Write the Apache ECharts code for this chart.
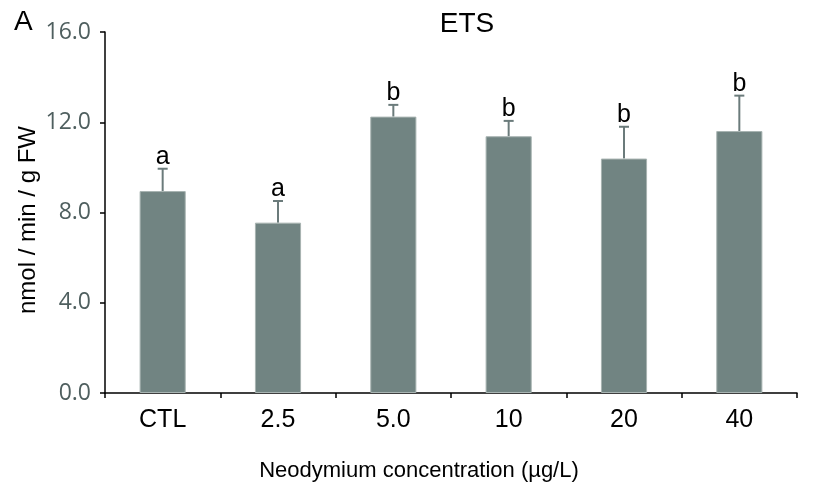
<!DOCTYPE html>
<html><head><meta charset="utf-8">
<script src="https://cdn.jsdelivr.net/npm/echarts@6/dist/echarts.min.js"></script>
<style>html,body{margin:0;padding:0;background:#fff}#c{width:823px;height:490px}</style>
</head><body><div id="c"></div>
<script>
var categories = ['CTL', '2.5', '5.0', '10', '20', '40'];
var means = [8.95, 7.55, 12.25, 11.38, 10.39, 11.61];
var errors = [0.99, 0.96, 0.52, 0.68, 1.41, 1.57];
var letters = ['a', 'a', 'b', 'b', 'b', 'b'];
var xName = 'Neodymium concentration (µg/L)';
var yName = 'nmol / min / g FW';

var chart = echarts.init(document.getElementById('c'));
var errData = categories.map(function (c, i) { return [i, means[i], errors[i]]; });
chart.setOption({
  animation: false,
  title: { text: 'ETS', left: 462, top: 5, textAlign: 'center',
    textStyle: { fontFamily: 'Liberation Sans', fontSize: 28, fontWeight: 'normal', color: '#000' } },
  graphic: [
    { type: 'text', left: 14, top: 8, style: { text: 'A', font: '28px "Liberation Sans"', fill: '#000' } },
    { type: 'text', x: 419, y: 471, style: { text: xName, font: '22px "Liberation Sans"', fill: '#000',
      textAlign: 'center', textVerticalAlign: 'middle' } },
    { type: 'text', x: 28, y: 220, rotation: Math.PI / 2, style: { text: yName, font: '24px "Liberation Sans"', fill: '#000',
      textAlign: 'center', textVerticalAlign: 'middle' } }
  ],
  grid: { left: 105, right: 26, top: 32, bottom: 97 },
  xAxis: {
    type: 'category', data: categories,
    axisLine: { lineStyle: { color: '#000', width: 1.5 } },
    axisTick: { show: true, length: 5, lineStyle: { color: '#000', width: 1.5 } },
    axisLabel: { fontFamily: 'Liberation Sans', fontSize: 25, color: '#000', margin: 15 }
  },
  yAxis: {
    type: 'value', min: 0, max: 16, interval: 4,
    axisLine: { show: true, lineStyle: { color: '#000', width: 1.5 } },
    axisTick: { show: true, length: 5, lineStyle: { color: '#000', width: 1.5 } },
    splitLine: { show: false },
    axisLabel: { fontFamily: '"Open Sans", sans-serif', fontSize: 23, color: '#4f5f5f', margin: 14,
      formatter: function (v) { return v.toFixed(1); } }
  },
  series: [{
    type: 'bar', data: means, barWidth: '40%',
    itemStyle: { color: '#718482', borderColor: '#a8b4b2', borderWidth: 1 }
  }, {
    type: 'custom', data: errData,
    renderItem: function (params, api) {
      var x = api.value(0), m = api.value(1), e = api.value(2);
      var p0 = api.coord([x, m]);
      var p1 = api.coord([x, m + e]);
      var hw = 5;
      var st = { stroke: '#6b7b7b', lineWidth: 2 };
      return { type: 'group', children: [
        { type: 'line', shape: { x1: p0[0], y1: p0[1], x2: p1[0], y2: p1[1] }, style: st },
        { type: 'line', shape: { x1: p1[0] - hw, y1: p1[1], x2: p1[0] + hw, y2: p1[1] }, style: st },
        { type: 'text', style: { text: letters[params.dataIndex], x: p1[0], y: p1[1] + 1,
          textAlign: 'center', textVerticalAlign: 'bottom', font: '25px "Liberation Sans"', fill: '#000' } }
      ] };
    }
  }]
});
</script></body></html>
